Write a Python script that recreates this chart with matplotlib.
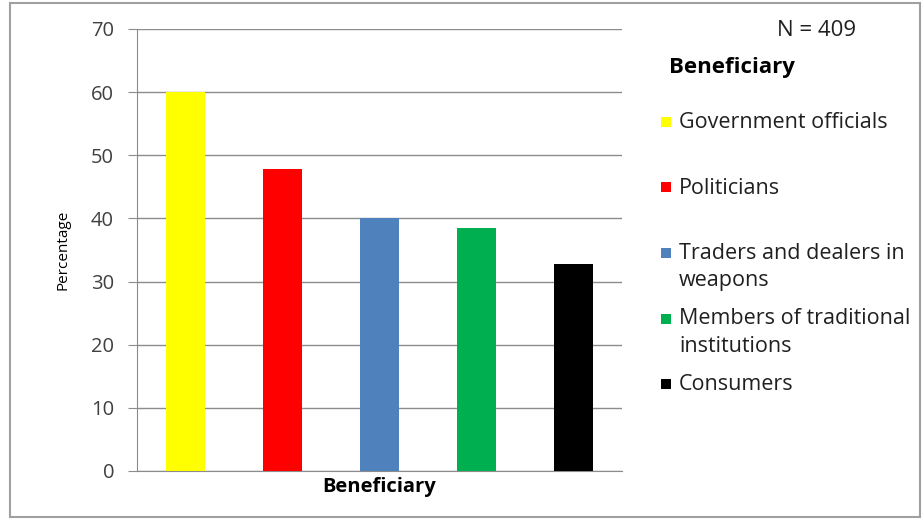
import textwrap
import matplotlib
matplotlib.use("Agg")
from matplotlib import pyplot as plt
from matplotlib.patches import Rectangle

categories = ["Government officials", "Politicians", "Traders and dealers in weapons",
              "Members of traditional institutions", "Consumers"]
values = [60, 47.8, 40, 38.5, 32.8]
colors = ["#FFFF00", "#FF0000", "#4F81BD", "#00B050", "#000000"]
yticks = [0, 10, 20, 30, 40, 50, 60, 70]

plt.rcParams['font.family'] = ['Open Sans', 'DejaVu Sans']

W, H = 924, 521
fig = plt.figure(figsize=(W / 100, H / 100), dpi=100)
fig.patches.append(Rectangle((10 / W, 4 / H), 910 / W, 514 / H, transform=fig.transFigure,
                             fill=False, edgecolor="#a0a0a0", linewidth=1.5))

ax = fig.add_axes([137 / W, 1 - 471 / H, 485 / W, 442 / H])
x = list(range(len(categories)))
ax.bar(x, values, width=0.4, color=colors, zorder=3)
ax.set_xlim(-0.5, len(categories) - 0.5)
ax.set_ylim(0, 70)
ax.set_yticks(yticks)
ax.set_xticks([])
ax.grid(axis="y", color="#8c8c8c", linewidth=1, zorder=0)
for s in ["top", "right"]:
    ax.spines[s].set_visible(False)
ax.spines["left"].set_color("#8c8c8c")
ax.spines["bottom"].set_color("#8c8c8c")
ax.tick_params(axis="y", colors="#8c8c8c", labelcolor="#404040", labelsize=14.5, length=6.5, pad=10)
ax.set_ylabel("Percentage", fontsize=11, color="black", labelpad=15)
ax.set_xlabel("Beneficiary", fontsize=14.5, fontweight="bold", labelpad=4)

# legend / annotations on the right
fig.text(777 / W, 1 - 30 / H, "N = 409", fontsize=16, ha="left", va="center", color="#202020")
fig.text(669 / W, 1 - 67 / H, "Beneficiary", fontsize=16, fontweight="bold", ha="left", va="center")
for i, (cat, c) in enumerate(zip(categories, colors)):
    yc = 122 + 65.5 * i
    fig.patches.append(Rectangle((661 / W, 1 - (yc + 5) / H), 10 / W, 10 / H,
                                 transform=fig.transFigure, facecolor=c, edgecolor="none"))
    fig.text(679 / W, 1 - (yc - 10) / H, textwrap.fill(cat, 22), fontsize=15.5, ha="left",
             va="top", color="#202020", linespacing=1.38)

fig.savefig("out.png", dpi=100)
